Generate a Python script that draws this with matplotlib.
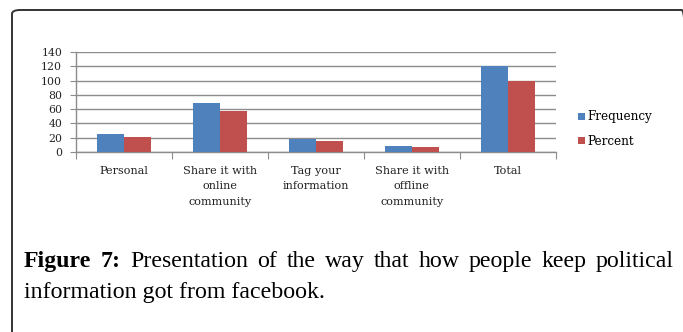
import matplotlib
matplotlib.use("Agg")
import matplotlib.pyplot as plt
import numpy as np
from matplotlib.patches import FancyBboxPatch

# Ways of keeping political information obtained from Facebook
categories = ["Personal", "Share it with\nonline\ncommunity", "Tag your\ninformation",
              "Share it with\noffline\ncommunity", "Total"]
frequency = [25, 68, 18, 9, 120]
percent = [20.8, 56.7, 15.0, 7.5, 100.0]
series_names = ["Frequency", "Percent"]
y_ticks = [0, 20, 40, 60, 80, 100, 120, 140]

caption_line1 = "Figure 7: Presentation of the way that how people keep political"
caption_line2 = "information got from facebook."

W, H = 683, 332
fig = plt.figure(figsize=(W / 100, H / 100), dpi=100)

def fx(px):
    return px / W

def fy(py):
    return 1 - py / H

# Rounded frame around the figure panel
frame = FancyBboxPatch((fx(12), fy(345)), fx(678), (345 - 10) / H,
                       boxstyle="round,pad=0,rounding_size=0.012",
                       transform=fig.transFigure, facecolor="none",
                       edgecolor="#333333", linewidth=1.4, zorder=0)
fig.patches.append(frame)

ax = fig.add_axes([fx(76), fy(152), fx(556) - fx(76), (152 - 52) / H])

blue = "#4F81BD"
red = "#C0504D"
grid_c = "#8C8C8C"
x = np.arange(len(categories))
bw = 0.285
ax.bar(x - bw / 2, frequency, width=bw, color=blue, label=series_names[0], zorder=3)
ax.bar(x + bw / 2, percent, width=bw, color=red, label=series_names[1], zorder=3)

ax.set_xlim(-0.5, len(categories) - 0.5)
ax.set_ylim(0, 140)
ax.set_yticks(y_ticks)
ax.yaxis.grid(True, color=grid_c, linewidth=1.0, zorder=0)
ax.set_axisbelow(True)

serif = ["DejaVu Serif"]
ax.set_yticklabels([str(v) for v in y_ticks], fontsize=7.8, family=serif, color="#222222")
ax.tick_params(axis="y", length=4, color=grid_c, pad=6)

# Category labels centred under each group, tick marks at group boundaries
ax.set_xticks(np.arange(len(categories) + 1) - 0.5)
ax.set_xticklabels([])
ax.set_xticks(x, minor=True)
ax.set_xticklabels(categories, minor=True, fontsize=8.1, family=serif,
                   color="#222222", linespacing=1.68)
ax.tick_params(axis="x", which="major", length=5, color=grid_c)
ax.tick_params(axis="x", which="minor", length=0, pad=10)

for s in ["top", "right"]:
    ax.spines[s].set_visible(False)
for s in ["left", "bottom"]:
    ax.spines[s].set_color(grid_c)
    ax.spines[s].set_linewidth(1.0)
ax.set_facecolor("none")

fig.legend(loc="center left", bbox_to_anchor=(fx(572), fy(129)),
           frameon=False, prop={"family": serif, "size": 8.6},
           handlelength=0.55, handleheight=0.55, handletextpad=0.25,
           labelspacing=0.95, borderpad=0)

# Caption: first line justified between the margins, second line left-aligned
cap_size = 17.2
cap_font = ["Liberation Serif"]
left_px, right_px = 24, 674
y1, y2 = fy(267), fy(298)
fig.canvas.draw()
renderer = fig.canvas.get_renderer()
words = caption_line1.split(" ")
artists = []
for i, w in enumerate(words):
    bold = i < 2
    t = fig.text(0, y1, w, fontsize=cap_size, family=cap_font,
                 fontweight="bold" if bold else "normal", va="baseline", ha="left")
    artists.append(t)
widths = [a.get_window_extent(renderer).width for a in artists]
gap = (right_px - left_px - sum(widths)) / (len(words) - 1)
pos = left_px
for a, wd in zip(artists, widths):
    a.set_x(fx(pos))
    pos += wd + gap
fig.text(fx(left_px), y2, caption_line2, fontsize=cap_size, family=cap_font,
         va="baseline", ha="left")

fig.savefig("out.png", dpi=100)
